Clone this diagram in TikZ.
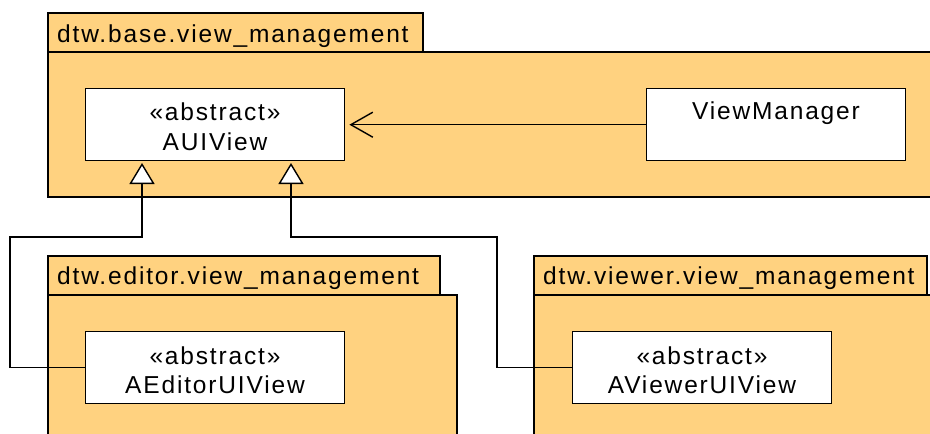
\documentclass[tikz,border=0pt]{standalone}
\usepackage{fontspec}
\setmainfont{Liberation Sans}[LetterSpace=7.5]
\usetikzlibrary{arrows.meta}
\definecolor{pkgfill}{RGB}{255,210,128}
\tikzset{
  pkg/.style={draw=black, fill=pkgfill, line width=1.4pt},
  cls/.style={draw=black, fill=white, line width=1.4pt, inner sep=0pt,
    minimum width=259pt, minimum height=72pt, anchor=north west},
  txt/.style={inner sep=0pt, font=\fontsize{24.5}{29}\selectfont},
  lbl/.style={txt, anchor=base},
  pkgname/.style={txt, anchor=base west},
  assoc/.style={line width=1.4pt, -{Straight Barb[length=22pt,width=25pt,line width=1.4pt]}, shorten >=4pt},
  gen/.style={line width=1.4pt, -{Triangle[open, fill=white, length=21pt, width=25pt, line width=1.4pt]}, shorten >=3pt}
}
\begin{document}
\begin{tikzpicture}[x=1pt,y=-1pt]
\useasboundingbox (0,0) rectangle (930,434);
\clip (0,0) rectangle (930,434);

% package dtw.base.view_management
\draw[pkg] (48,52) rectangle (945,197);
\draw[pkg] (48,13) rectangle (423,52);
\node[pkgname] (basename) at (57,42) {dtw.base.view\_management};

% package dtw.editor.view_management
\draw[pkg] (48,295) rectangle (457,450);
\draw[pkg] (48,256) rectangle (440,295);
\node[pkgname] (editorname) at (57,284) {dtw.editor.view\_management};

% package dtw.viewer.view_management
\draw[pkg] (534,295) rectangle (945,450);
\draw[pkg] (534,256) rectangle (927,295);
\node[pkgname] (viewername) at (543,284) {dtw.viewer.view\_management};

% classes
\node[cls] (auiview) at (85,88) {};
\node[lbl] (auiviewst) at (215,120) {«abstract»};
\node[lbl] (auiviewnm) at (215,150) {AUIView};

\node[cls] (vm) at (646,88) {};
\node[lbl] (vmnm) at (776,119) {ViewManager};

\node[cls] (edit) at (85,331) {};
\node[lbl] (editst) at (215,364) {«abstract»};
\node[lbl] (editnm) at (215,393) {AEditorUIView};

\node[cls] (view) at (572,331) {};
\node[lbl] (viewst) at (702,364) {«abstract»};
\node[lbl] (viewnm) at (702,393) {AViewerUIView};

% bend points of the generalization paths
\coordinate (k1) at (10,237);
\coordinate (k2) at (497,237);
\coordinate (g1) at (142,160);
\coordinate (g2) at (291,160);

% connectors
\draw[assoc] (vm.west) -- (auiview.east);
\draw[gen] (edit.west) -| (k1) -| (g1);
\draw[gen] (view.west) -| (k2) -| (g2);
\end{tikzpicture}
\end{document}
